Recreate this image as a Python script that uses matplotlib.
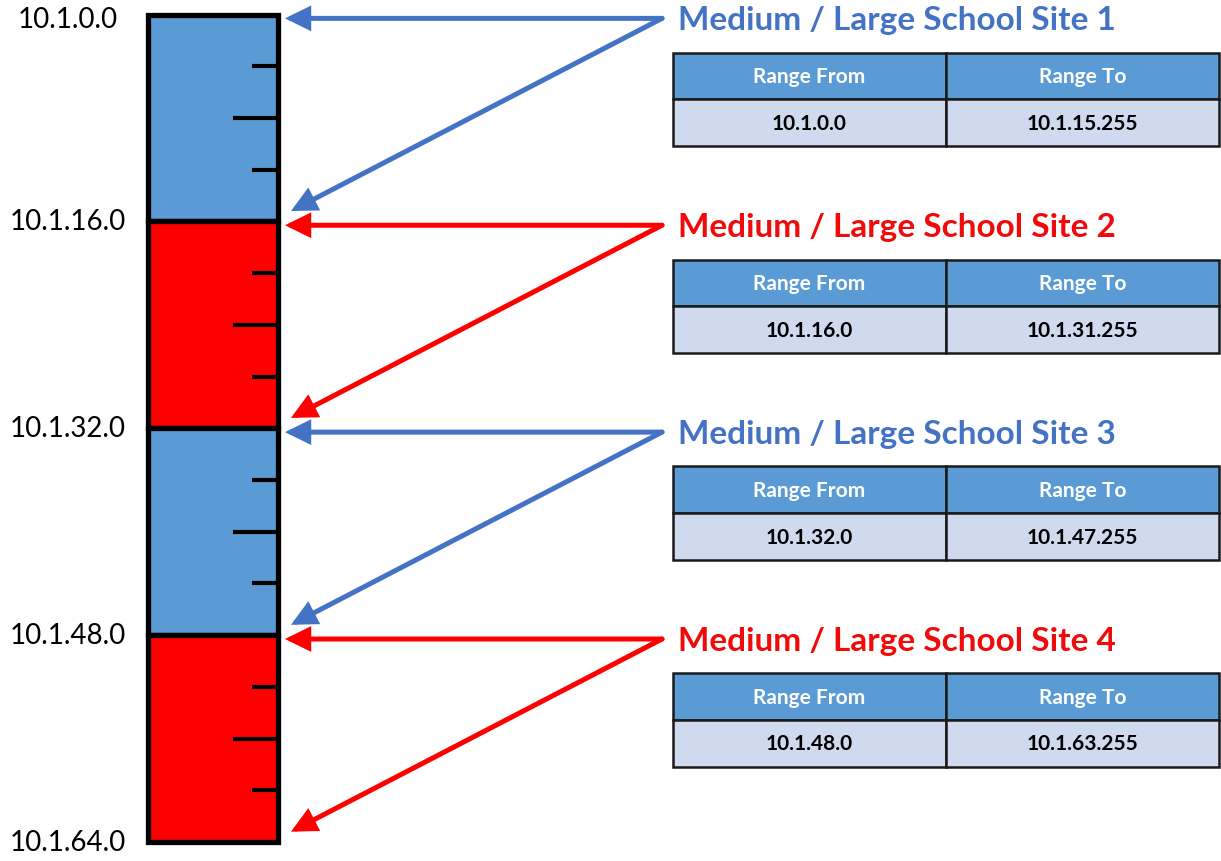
import matplotlib
matplotlib.use("Agg")
import matplotlib.pyplot as plt
from matplotlib.patches import Rectangle

# ---- data ----
site_titles = ["Medium / Large School Site 1", "Medium / Large School Site 2",
               "Medium / Large School Site 3", "Medium / Large School Site 4"]
range_from = ["10.1.0.0", "10.1.16.0", "10.1.32.0", "10.1.48.0"]
range_to = ["10.1.15.255", "10.1.31.255", "10.1.47.255", "10.1.63.255"]
block_start = [0, 16, 32, 48]          # third octet of block start
block_size = [16, 16, 16, 16]
block_end = [15, 31, 47, 63]           # third octet of last address
block_colors = ["#5B9BD5", "#FF0000", "#5B9BD5", "#FF0000"]
arrow_colors = ["#4472C4", "#FF0000", "#4472C4", "#FF0000"]
title_colors = ["#4472C4", "#F00A0A", "#4472C4", "#F00A0A"]
boundary_values = [0, 16, 32, 48, 64]
boundary_labels = ["10.1.0.0", "10.1.16.0", "10.1.32.0", "10.1.48.0", "10.1.64.0"]
minor_ticks = [4, 12, 20, 28, 36, 44, 52, 60]
mid_ticks = [8, 24, 40, 56]
header_labels = ["Range From", "Range To"]

W, H = 1221, 862
fig = plt.figure(figsize=(W / 100, H / 100), dpi=100)
ax = fig.add_axes([0, 0, 1, 1])
ax.set_xlim(0, W)
ppu = (843 - 15.5) / 64.0
ax.set_ylim((H - 15.5) / ppu, -15.5 / ppu)
ax.axis("off")

FONT = "Lato"

# ---- the address bar ----
bar_left, bar_right = 147.5, 277.5
ax.bar((bar_left + bar_right) / 2, block_size, bottom=block_start,
       width=bar_right - bar_left, color=block_colors, edgecolor="black",
       linewidth=3.8, zorder=2)
ax.hlines(minor_ticks, bar_right - 26, bar_right, color="black", lw=3.0, zorder=3)
ax.hlines(mid_ticks, bar_right - 45, bar_right, color="black", lw=3.0, zorder=3)

for v, lab in zip(boundary_values, boundary_labels):
    y = min(max(v, 0.35), 64.35)
    ax.text(68, y, lab, ha="center", va="center", fontsize=20,
            family=FONT, color="black")

# ---- titles, arrows and tables ----
tail_x = 662
col_x = [673, 946, 1219]
for i in range(4):
    yt = block_start[i] + 0.3
    c = arrow_colors[i]
    aprops = dict(arrowstyle="-|>,head_length=0.65,head_width=0.32",
                  lw=3.6, color=c, shrinkA=0, shrinkB=0, mutation_scale=20,
                  joinstyle="miter")
    ax.annotate("", xy=(285, yt), xytext=(tail_x, yt), arrowprops=aprops, zorder=4)
    ax.annotate("", xy=(291, block_end[i] + 0.2), xytext=(tail_x, yt),
                arrowprops=aprops, zorder=4)
    ax.text(678, yt + 0.1, site_titles[i], color=title_colors[i], fontsize=24,
            fontweight="bold", family=FONT, ha="left", va="center")

    top = block_start[i] + 2.95
    hh, rh = 3.6, 3.65
    for j in range(2):
        x0, x1 = col_x[j], col_x[j + 1]
        ax.add_patch(Rectangle((x0, top), x1 - x0, hh, facecolor="#5B9BD5",
                               edgecolor="#1a1a1a", lw=1.8, zorder=2))
        ax.add_patch(Rectangle((x0, top + hh), x1 - x0, rh, facecolor="#CFDAEE",
                               edgecolor="#1a1a1a", lw=1.8, zorder=2))
        ax.text((x0 + x1) / 2, top + hh / 2, header_labels[j], color="white",
                fontsize=15, fontweight="bold", family=FONT,
                ha="center", va="center", zorder=3)
        val = range_from[i] if j == 0 else range_to[i]
        ax.text((x0 + x1) / 2, top + hh + rh / 2, val, color="black",
                fontsize=15, fontweight="bold", family=FONT,
                ha="center", va="center", zorder=3)

fig.savefig("out.png", dpi=100, facecolor="white")
